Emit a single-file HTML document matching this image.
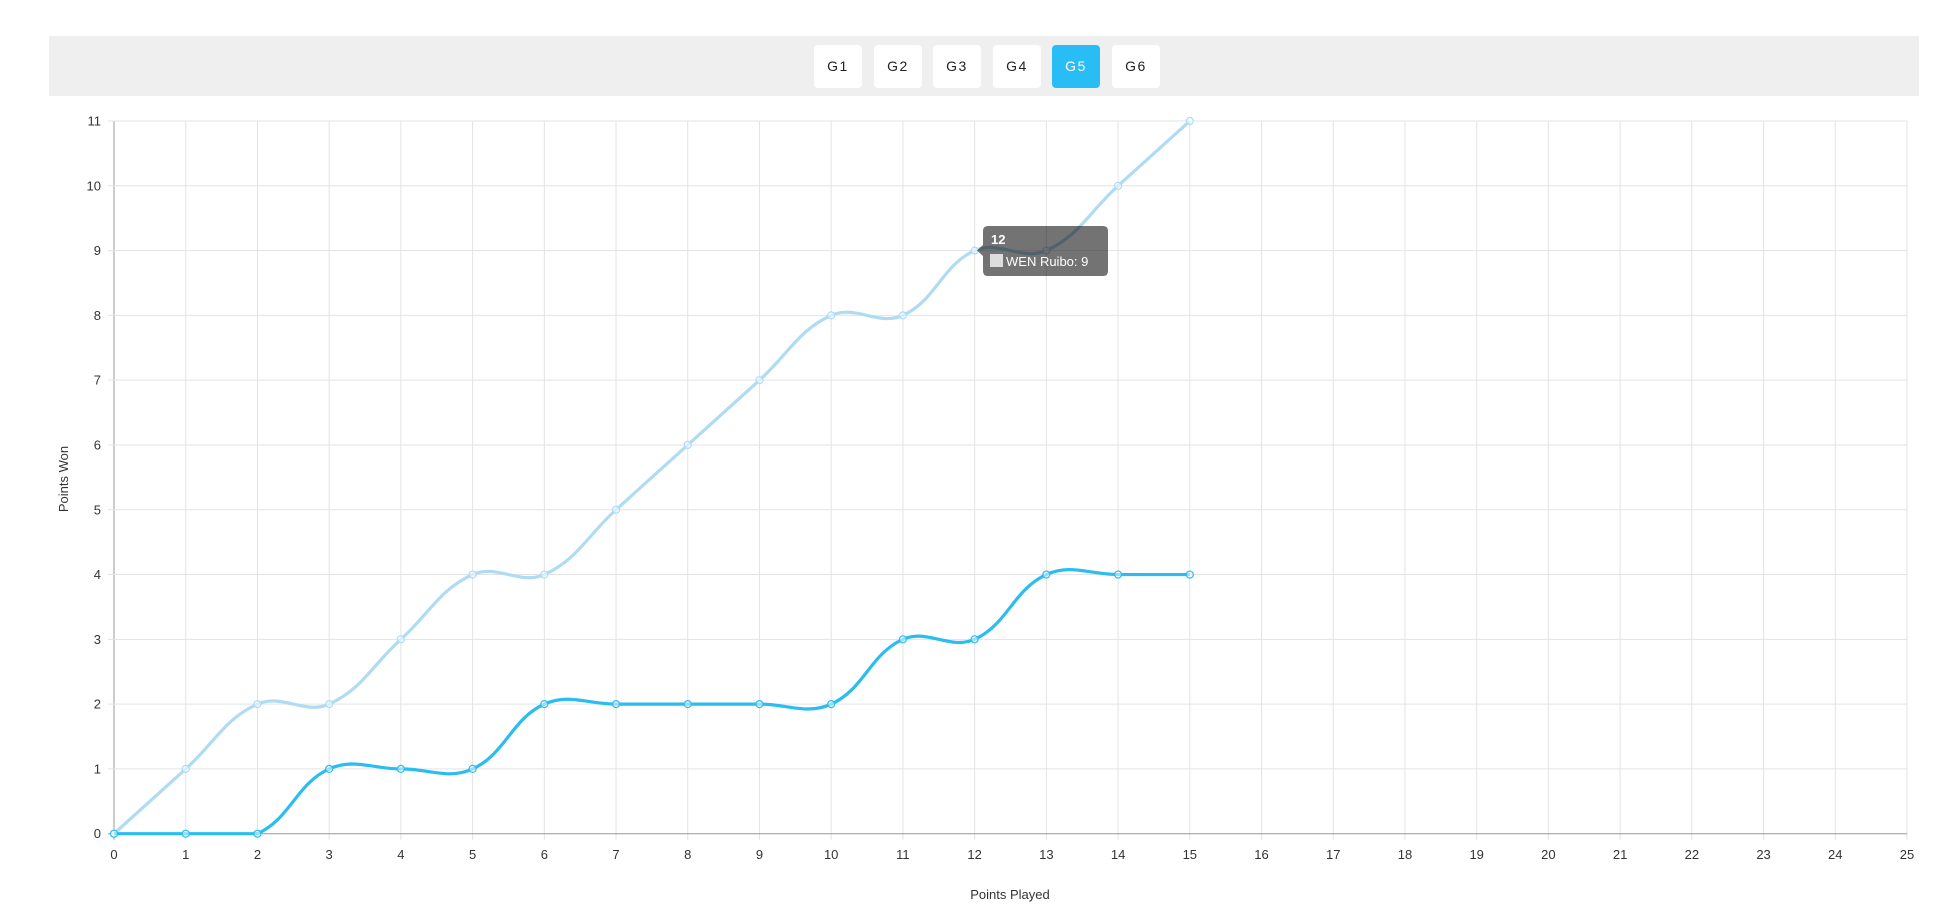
<!DOCTYPE html>
<html><head><meta charset="utf-8"><style>
body{margin:0;background:#fff;width:1934px;height:916px;overflow:hidden;font-family:"Liberation Sans",sans-serif;}
.bar{position:absolute;left:49px;top:36px;width:1870px;height:60px;background:#efefef;}
.btn{position:absolute;top:45px;width:48px;height:43px;background:#fff;border-radius:4px;font-size:14px;line-height:43px;text-align:center;color:#222;letter-spacing:1.5px;font-family:"Liberation Sans",sans-serif;}
.on{background:#29bdf5;color:#fff;}
</style></head><body>
<div class="bar"></div>
<div class="btn" style="left:814px">G1</div>
<div class="btn" style="left:874px">G2</div>
<div class="btn" style="left:933px">G3</div>
<div class="btn" style="left:993px">G4</div>
<div class="btn on" style="left:1052px">G5</div>
<div class="btn" style="left:1112px">G6</div>
<svg id="s" width="1934" height="916" style="position:absolute;left:0;top:0" font-family="Liberation Sans, sans-serif"></svg>
<script>
var X0=114,XS=71.72,Y0=833.7,YS=64.79;
function px(i){return X0+i*XS}function py(v){return Y0-v*YS}
function cl(y){return Math.max(121,Math.min(Y0,y))}
var h='';
for(var i=0;i<=25;i++){var x=px(i);h+='<line x1="'+x+'" y1="121" x2="'+x+'" y2="'+(Y0+6)+'" stroke="'+(i==0?'#999':'#e3e3e3')+'" stroke-width="1"/>';
h+='<text x="'+x+'" y="859" font-size="13" text-anchor="middle" fill="#333">'+i+'</text>';}
for(var j=0;j<=11;j++){var y=py(j);h+='<line x1="'+(X0-6)+'" y1="'+y+'" x2="1907" y2="'+y+'" stroke="'+(j==0?'#999':'#e3e3e3')+'" stroke-width="1"/>';
h+='<text x="101" y="'+(y+4.5)+'" font-size="13" text-anchor="end" fill="#333">'+j+'</text>';}
h+='<text x="1010" y="899" font-size="13" text-anchor="middle" fill="#333">Points Played</text>';
h+='<text transform="translate(68,479) rotate(-90)" font-size="13" text-anchor="middle" fill="#333">Points Won</text>';
function curve(d,col){var p=d.map(function(v,i){return[px(i),py(v)]});var cps=[];
for(var i=0;i<p.length;i++){var a=p[Math.max(i-1,0)],c=p[i],b=p[Math.min(i+1,p.length-1)];
var d01=Math.hypot(c[0]-a[0],c[1]-a[1]),d12=Math.hypot(b[0]-c[0],b[1]-c[1]);var s=d01+d12||1;var fa=0.4*d01/s,fb=0.4*d12/s;
cps.push([[c[0]-fa*(b[0]-a[0]),cl(c[1]-fa*(b[1]-a[1]))],[c[0]+fb*(b[0]-a[0]),cl(c[1]+fb*(b[1]-a[1]))]]);}
var s='M'+p[0][0]+','+p[0][1];for(var i=1;i<p.length;i++){s+=' C'+cps[i-1][1][0]+','+cps[i-1][1][1]+' '+cps[i][0][0]+','+cps[i][0][1]+' '+p[i][0]+','+p[i][1];}
var o='<path d="'+s+'" fill="none" stroke="'+col+'" stroke-width="3.2"/>';
p.forEach(function(q){o+='<circle cx="'+q[0]+'" cy="'+q[1]+'" r="3.5" fill="#fff" fill-opacity="0.5" stroke="'+col+'" stroke-width="1.2"/>'});return o;}
h+=curve([0,1,2,2,3,4,4,5,6,7,8,8,9,9,10,11],'#afdbf3');
h+=curve([0,0,0,1,1,1,2,2,2,2,2,3,3,4,4,4],'#2bbcf0');
h+='<path d="M983,231 Q983,226 988,226 L1103,226 Q1108,226 1108,231 L1108,271 Q1108,276 1103,276 L988,276 Q983,276 983,271 L983,256 L977,250.5 L983,245 Z" fill="rgba(0,0,0,0.55)"/>';
h+='<text x="991" y="244" font-size="13" font-weight="bold" fill="#fff">12</text>';
h+='<rect x="990" y="254" width="13" height="13" fill="#ddd"/>';
h+='<text x="1006" y="266" font-size="13" fill="#fff">WEN Ruibo: 9</text>';
document.getElementById('s').innerHTML=h;
</script>
</body></html>
